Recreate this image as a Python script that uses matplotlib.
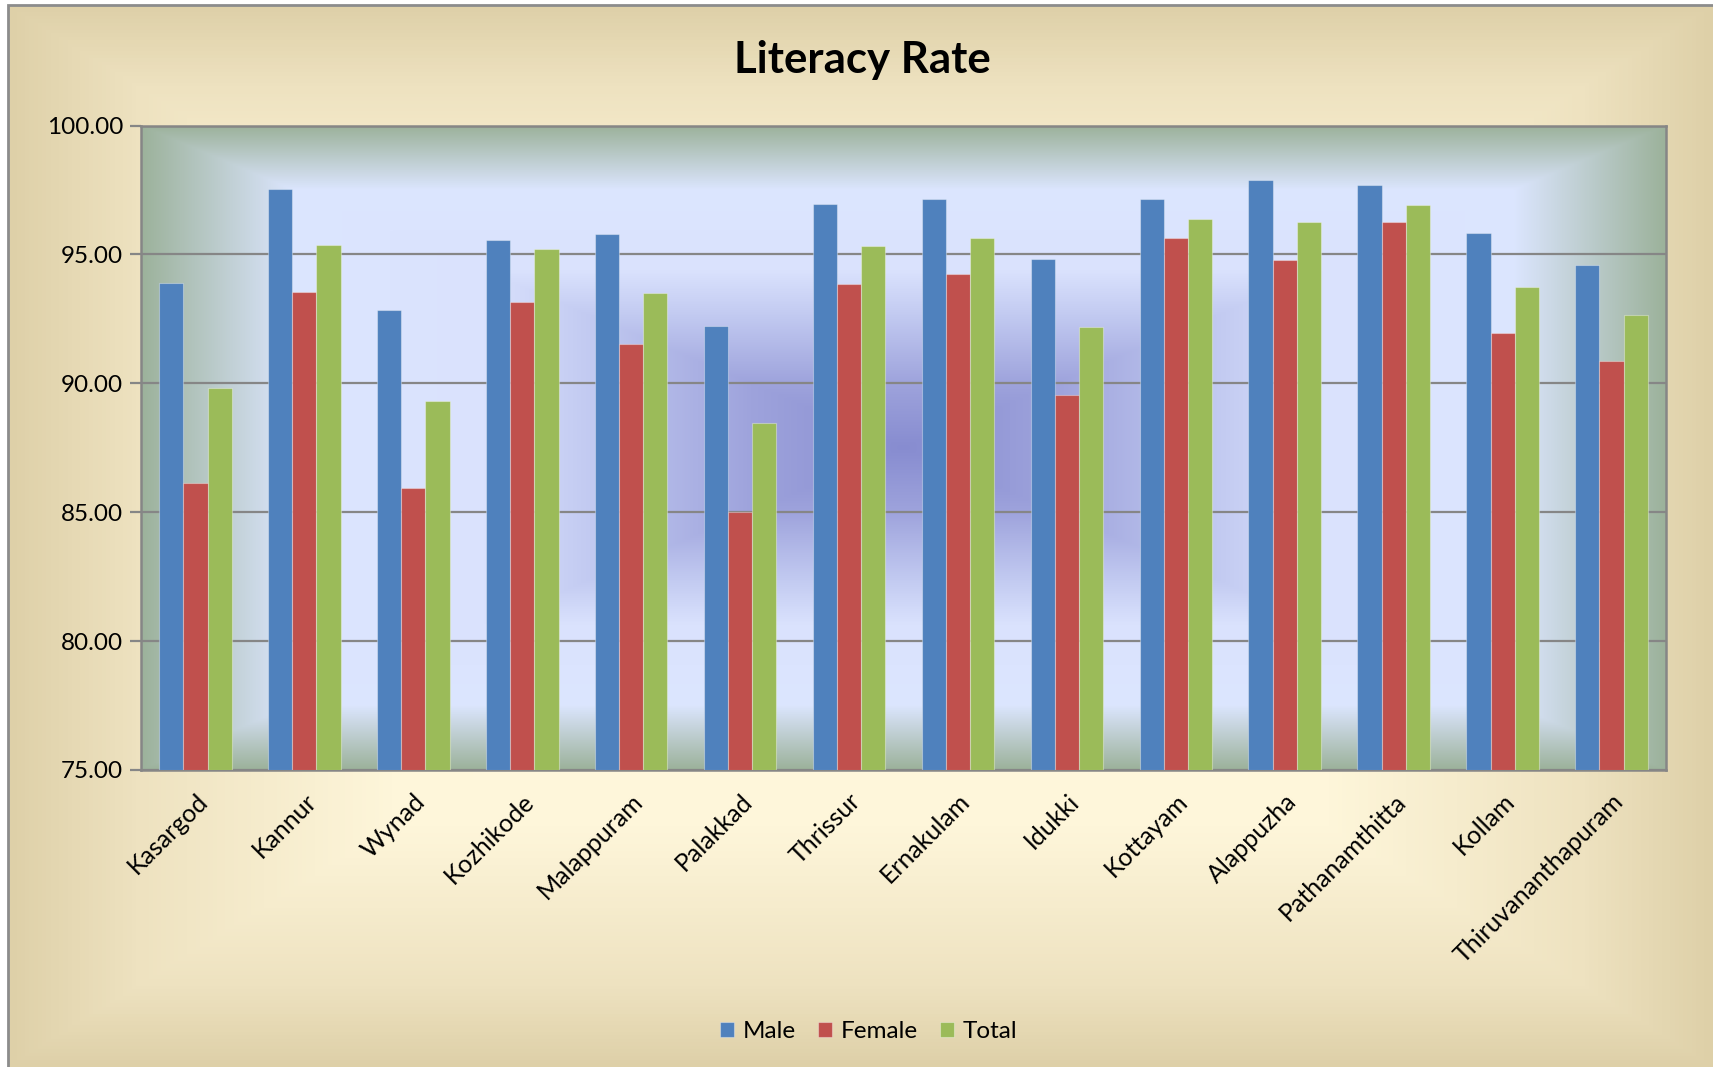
import numpy as np
import matplotlib
matplotlib.use('Agg')
import matplotlib.pyplot as plt
from matplotlib.patches import Rectangle

# ---- 字体设置 ----
plt.rcParams['font.family'] = ['Lato', 'DejaVu Sans']

# ---- 数据 ----
districts = ['Kasargod', 'Kannur', 'Wynad', 'Kozhikode', 'Malappuram', 'Palakkad', 'Thrissur',
             'Ernakulam', 'Idukki', 'Kottayam', 'Alappuzha', 'Pathanamthitta', 'Kollam',
             'Thiruvananthapuram']
male = [93.91, 97.52, 92.83, 95.55, 95.78, 92.24, 96.95, 97.13, 94.82, 97.14, 97.89, 97.70, 95.83, 94.58]
female = [86.12, 93.54, 85.92, 93.14, 91.53, 84.99, 93.84, 94.23, 89.56, 95.64, 94.79, 96.26, 91.95, 90.88]
total = [89.82, 95.38, 89.30, 95.20, 93.52, 88.45, 95.31, 95.65, 92.17, 96.38, 96.26, 96.92, 93.75, 92.64]
series_names = ['Male', 'Female', 'Total']
series_colors = ['#4F81BD', '#C0504D', '#9BBB59']
y_ticks = [75, 80, 85, 90, 95, 100]


def rect_gradient(nx, ny, stops):
    """矩形路径渐变: stops 为 (距离, rgb) 列表, 距离 0=中心 1=边缘"""
    u = np.linspace(-1, 1, nx)
    v = np.linspace(-1, 1, ny)
    uu, vv = np.meshgrid(u, v)
    d = np.maximum(np.abs(uu), np.abs(vv))
    pos = [s[0] for s in stops]
    img = np.zeros((ny, nx, 3))
    for c in range(3):
        img[:, :, c] = np.interp(d, pos, [s[1][c] / 255 for s in stops])
    return img


fig = plt.figure(figsize=(17.13, 10.67), dpi=100)
fig.patch.set_facecolor('white')

# ---- 图表背景 (米黄色渐变) ----
bg = fig.add_axes([0, 0, 1, 1], zorder=-10)
bg_img = rect_gradient(400, 300, [(0.0, (255, 248, 224)), (0.55, (254, 246, 218)),
                                  (0.85, (238, 226, 192)), (1.0, (222, 208, 168))])
x0, y0 = 8 / 1713, 1 - 5 / 1067
bg.imshow(bg_img, extent=[x0, 1.0, 0.0, y0], aspect='auto', origin='lower')
bg.add_patch(Rectangle((x0, -0.01), 1.02 - x0, y0 + 0.01, fill=False, edgecolor='#8C8C8C', linewidth=2))
bg.set_xlim(0, 1)
bg.set_ylim(0, 1)
bg.axis('off')

# ---- 主图 ----
ax = fig.add_axes([141 / 1713, 1 - 770 / 1067, (1666 - 141) / 1713, (770 - 125.5) / 1067])
ax.set_facecolor('none')
plot_img = rect_gradient(600, 300, [(0.0, (135, 140, 208)), (0.2, (158, 163, 220)),
                                    (0.4, (192, 200, 240)), (0.55, (218, 226, 253)),
                                    (0.8, (220, 230, 255)), (1.0, (156, 178, 155))])
ax.imshow(plot_img, extent=[0, 1, 0, 1], transform=ax.transAxes, aspect='auto', zorder=0)

x = np.arange(len(districts))
w = 0.222
for i, (vals, name, color) in enumerate(zip([male, female, total], series_names, series_colors)):
    ax.bar(x + (i - 1) * w, np.array(vals) - 75, width=w, bottom=75, color=color,
           edgecolor=(1, 1, 1, 0.35), linewidth=0.8, label=name, zorder=3)

# ---- 坐标轴设置 ----
ax.set_xlim(-0.5, len(districts) - 0.5)
ax.set_ylim(75, 100)
ax.set_yticks(y_ticks)
ax.set_yticklabels(['%.2f' % t for t in y_ticks], fontsize=17.5)
ax.yaxis.grid(True, color='#868686', linewidth=1.6, zorder=1)
ax.set_axisbelow(True)
ax.tick_params(axis='y', length=8, width=1.6, color='#868686', pad=5)
ax.tick_params(axis='x', length=0, pad=14)
ax.set_xticks(x)
ax.set_xticklabels(districts, rotation=45, ha='right', va='top', rotation_mode='anchor', fontsize=18)
for sp in ax.spines.values():
    sp.set_color('#868686')
    sp.set_linewidth(1.8)

# ---- 标题与图例 ----
fig.text(862 / 1713, 1 - 60 / 1067, 'Literacy Rate', ha='center', va='center',
         fontsize=31.5, fontweight='bold')
fig.legend(loc='center', bbox_to_anchor=(0.507, 0.033), ncol=3, frameon=False, fontsize=17.5,
           handlelength=0.6, handleheight=0.6, handletextpad=0.35, columnspacing=0.9)

plt.savefig('out.png', dpi=100)
